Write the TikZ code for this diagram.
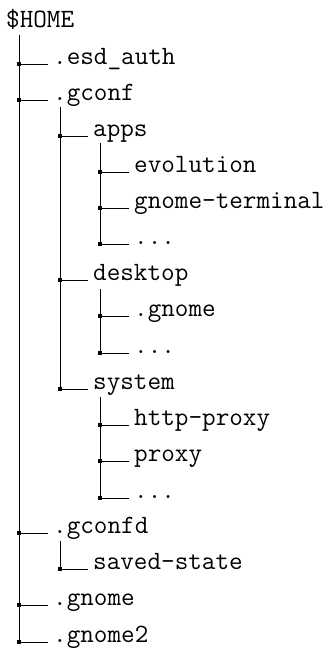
\documentclass[tikz,border=0pt]{standalone}
\usepackage{tikz}
\newcommand{\treeFont}{\fontsize{26.4}{30}\selectfont\ttfamily}
\newcommand{\knotSize}{1.6}

\begin{document}
\begin{tikzpicture}[x=1pt, y=-1pt,
   entry/.style={anchor=base west, inner sep=0pt, font=\treeFont},
   branch/.style={line width=0.9pt}]
   \useasboundingbox (0,3) rectangle (330,651);

   % entries
   \node[entry] (home) at (6,30) {\$HOME};

   \node[entry] (esd) at (53,67) {.esd\_auth};
   \node[entry] (gconf) at (53,103) {.gconf};
      \node[entry] (apps) at (93,139) {apps};
         \node[entry] (evolution) at (134,175) {evolution};
         \node[entry] (gterm) at (134,211) {gnome-terminal};
         \node[entry] (appsmore) at (134,247) {...};
      \node[entry] (desktop) at (93,283) {desktop};
         \node[entry] (dgnome) at (134,319) {.gnome};
         \node[entry] (deskmore) at (134,356) {...};
      \node[entry] (system) at (93,392) {system};
         \node[entry] (httpproxy) at (134,428) {http-proxy};
         \node[entry] (proxy) at (134,464) {proxy};
         \node[entry] (sysmore) at (134,501) {...};
   \node[entry] (gconfd) at (53,536) {.gconfd};
      \node[entry] (savedstate) at (93,572) {saved-state};
   \node[entry] (gnome) at (53,608) {.gnome};
   \node[entry] (gnometwo) at (53,645) {.gnome2};

   % branches
   \foreach \kid/\lx in {esd/19, gconf/19, gconfd/19, gnome/19, gnometwo/19,
                         apps/60, desktop/60, system/60, savedstate/60,
                         evolution/100, gterm/100, appsmore/100,
                         dgnome/100, deskmore/100,
                         httpproxy/100, proxy/100, sysmore/100}
   {%
      \coordinate (k-\kid) at (\lx,0 |- \kid.base);
      \draw[branch] (k-\kid) -- ([xshift=-5pt]\kid.base west);
      \fill (k-\kid) +(-\knotSize,-\knotSize) rectangle +(\knotSize,\knotSize);
   }

   % trunks
   \draw[branch] (k-gnometwo |- home.base) ++(0,8) -- (k-gnometwo);
   \draw[branch] (k-system |- gconf.base) ++(0,7) -- (k-system);
   \draw[branch] (k-appsmore |- apps.base) ++(0,7) -- (k-appsmore);
   \draw[branch] (k-deskmore |- desktop.base) ++(0,9) -- (k-deskmore);
   \draw[branch] (k-sysmore |- system.base) ++(0,8) -- (k-sysmore);
   \draw[branch] (k-savedstate |- gconfd.base) ++(0,8) -- (k-savedstate);
\end{tikzpicture}
\end{document}
